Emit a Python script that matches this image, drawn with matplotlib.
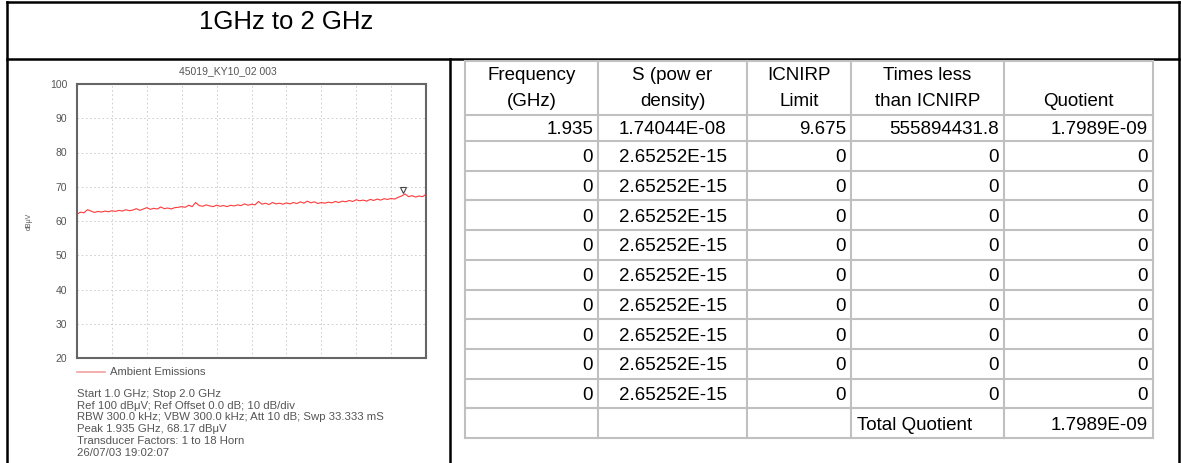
import numpy as np
import matplotlib.pyplot as plt

plt.rcParams['font.family'] = ['Liberation Sans', 'DejaVu Sans']

W, H = 1181, 463

# analyser trace, dBuV at 0.01 GHz steps from 1.0 to 2.0 GHz
trace_db = [62.0, 62.6, 62.4, 63.3, 62.9, 62.5, 62.8, 62.6, 62.9, 62.7,
            63.0, 62.8, 63.1, 62.9, 63.3, 63.0, 63.2, 63.6, 63.1, 63.5,
            63.9, 63.4, 63.7, 63.5, 64.1, 63.6, 63.8, 63.5, 63.9, 64.0,
            64.2, 64.0, 64.6, 64.2, 65.4, 64.5, 64.3, 64.7, 64.4, 64.2,
            64.6, 64.3, 64.5, 64.2, 64.6, 64.4, 64.7, 64.5, 65.0, 64.6,
            64.9, 64.7, 65.7, 64.9, 65.2, 64.8, 65.4, 65.0, 65.2, 64.9,
            65.3, 65.0, 65.4, 65.1, 65.6, 65.2, 65.8, 65.3, 65.6, 65.1,
            65.4, 65.2, 65.5, 65.3, 65.7, 65.4, 65.8, 65.6, 66.0, 65.7,
            66.2, 65.9, 66.1, 65.8, 66.3, 66.0, 66.4, 66.1, 66.5, 66.3,
            66.6, 66.4, 66.9, 67.3, 67.9, 67.1, 67.4, 67.0, 67.3, 67.1,
            67.8]
peak_freq = 1.935
peak_db = 68.17

plot_title = '45019_KY10_02 003'
legend_label = 'Ambient Emissions'
info_lines = ['Start 1.0 GHz; Stop 2.0 GHz',
              'Ref 100 dB\u03bcV; Ref Offset 0.0 dB; 10 dB/div',
              'RBW 300.0 kHz; VBW 300.0 kHz; Att 10 dB; Swp 33.333 mS',
              'Peak 1.935 GHz, 68.17 dB\u03bcV',
              'Transducer Factors: 1 to 18 Horn',
              '26/07/03 19:02:07']

header = [('Frequency', '(GHz)'), ('S (pow er', 'density)'), ('ICNIRP', 'Limit'),
          ('Times less', 'than ICNIRP'), ('', 'Quotient')]
frequency = ['1.935'] + ['0'] * 9
power_density = ['1.74044E-08'] + ['2.65252E-15'] * 9
icnirp_limit = ['9.675'] + ['0'] * 9
times_less = ['555894431.8'] + ['0'] * 9
quotient = ['1.7989E-09'] + ['0'] * 9
total_label = 'Total Quotient'
total_quotient = '1.7989E-09'

fig = plt.figure(figsize=(W / 100, H / 100), dpi=100)

# page layer in pixel coords
pg = fig.add_axes([0, 0, 1, 1])
pg.set_xlim(0, W)
pg.set_ylim(H, 0)
pg.axis('off')

black = dict(color='black', lw=1.8, solid_capstyle='projecting')
pg.plot([7, 7], [2, H + 5], **black)
pg.plot([1179, 1179], [2, H + 5], **black)
pg.plot([7, 1179], [2, 2], **black)
pg.plot([7, 1179], [59, 59], **black)
pg.plot([450, 450], [59, H + 5], **black)
pg.text(286, 22, '1GHz to 2 GHz', fontsize=18.5, ha='center', va='center')

# table
col_x = [465, 598, 747, 851, 1004, 1153]
row_y = [61, 115, 141] + [141 + 29.7 * k for k in range(1, 11)]
grey = dict(color='#c0c0c0', lw=1.5)
for x in col_x:
    pg.plot([x, x], [row_y[0], row_y[-1]], **grey)
for y in row_y:
    pg.plot([col_x[0], col_x[-1]], [y, y], **grey)

tfs = 13.5
for j, (l1, l2) in enumerate(header):
    cx = (col_x[j] + col_x[j + 1]) / 2
    pg.text(cx, 76, l1, fontsize=tfs, ha='center', va='center')
    pg.text(cx, 102, l2, fontsize=tfs, ha='center', va='center')

columns = [frequency, power_density, icnirp_limit, times_less, quotient]
for i in range(len(frequency)):
    cy = (row_y[i + 1] + row_y[i + 2]) / 2 + 2
    for j, col in enumerate(columns):
        if j == 1:
            pg.text(col_x[j] + 21, cy, col[i], fontsize=tfs, ha='left', va='center')
        else:
            pg.text(col_x[j + 1] - 5, cy, col[i], fontsize=tfs, ha='right', va='center')
cy = (row_y[-2] + row_y[-1]) / 2 + 2
pg.text(col_x[3] + 6, cy, total_label, fontsize=tfs, ha='left', va='center')
pg.text(col_x[5] - 5, cy, total_quotient, fontsize=tfs, ha='right', va='center')

# analyser plot
gc = '#555555'
ax = fig.add_axes([77 / W, 1 - 358 / H, 349 / W, 274 / H])
freqs = np.linspace(1.0, 2.0, len(trace_db))
ax.plot(freqs, trace_db, color='#ff3b3b', lw=0.8)
ax.plot([peak_freq], [peak_db + 1.0], marker='v', ms=5, mfc='none', mec='#444444', mew=0.8)
ax.set_xlim(1.0, 2.0)
ax.set_ylim(20, 100)
ax.set_xticks(np.arange(1.0, 2.01, 0.1))
ax.set_xticklabels([])
ax.set_yticks(range(20, 101, 10))
ax.tick_params(length=0, labelsize=7.5, labelcolor=gc, pad=7)
ax.grid(True, color='#c8c8c8', lw=0.6, linestyle=(0, (2, 3)))
for s in ax.spines.values():
    s.set_color('#666666')
    s.set_linewidth(1.5)
ax.set_ylabel('dB\u03bcV', fontsize=5, color=gc, labelpad=12)

pg.text(228, 71, plot_title, fontsize=7.5, color=gc, ha='center', va='center')
pg.plot([77, 105], [372, 372], color='#f4a0a0', lw=1.2)
pg.text(110, 372, legend_label, fontsize=8.1, color=gc, ha='left', va='center')
for k, line in enumerate(info_lines):
    pg.text(77, 394 + 11.7 * k, line, fontsize=8.2, color=gc, ha='left', va='center')

fig.savefig('out.png', dpi=100)
